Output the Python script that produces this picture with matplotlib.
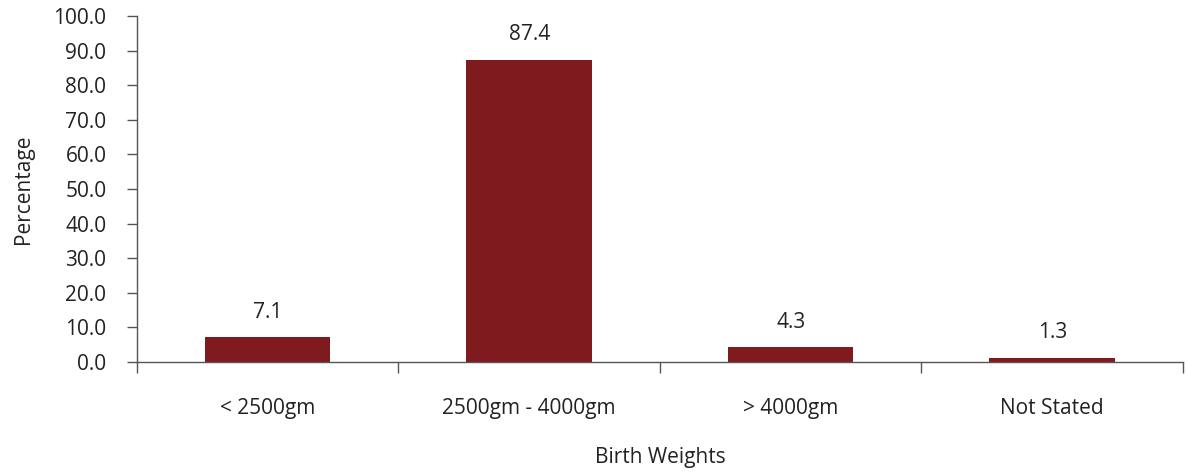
import matplotlib.pyplot as plt
from matplotlib.ticker import FixedLocator, NullFormatter, MultipleLocator, FormatStrFormatter

categories = ["< 2500gm", "2500gm - 4000gm", "> 4000gm", "Not Stated"]
percentages = [7.1, 87.4, 4.3, 1.3]

plt.rcParams['font.family'] = ['Open Sans', 'DejaVu Sans']
text_color = '#222222'
axis_color = '#555555'
bar_color = '#7f1a1f'
fs = 15

fig = plt.figure(figsize=(11.87, 4.72), dpi=100)
ax = fig.add_axes([0.1154, 0.233, 0.8812, 0.733])

x = list(range(len(categories)))
ax.bar(x, percentages, width=0.48, color=bar_color, zorder=2)

for xi, v in zip(x, percentages):
    ax.annotate(f"{v:.1f}", (xi, v), xytext=(0, 18), textcoords='offset points',
                ha='center', va='center', fontsize=fs, color=text_color)

ax.set_xlim(-0.5, len(categories) - 0.5)
ax.set_ylim(0, 100)
ax.yaxis.set_major_locator(MultipleLocator(10))
ax.yaxis.set_major_formatter(FormatStrFormatter('%.1f'))

# category labels sit between the boundary ticks
ax.xaxis.set_major_locator(FixedLocator([i - 0.5 for i in range(len(categories) + 1)]))
ax.xaxis.set_major_formatter(NullFormatter())
ax.xaxis.set_minor_locator(FixedLocator(x))
ax.set_xticklabels(categories, minor=True)
ax.tick_params(axis='x', which='minor', length=0, pad=26, labelsize=fs, labelcolor=text_color)
ax.tick_params(axis='x', which='major', length=8, direction='out', color=axis_color, width=1)
ax.tick_params(axis='y', length=7, direction='out', color=axis_color, width=1,
               labelsize=fs, labelcolor=text_color, pad=15)

for side in ('top', 'right'):
    ax.spines[side].set_visible(False)
for side in ('left', 'bottom'):
    ax.spines[side].set_color(axis_color)
    ax.spines[side].set_linewidth(1)

ax.set_xlabel("Birth Weights", fontsize=fs, color=text_color, labelpad=20)
ax.set_ylabel("Percentage", fontsize=fs, color=text_color, labelpad=14)

fig.savefig("out.png", dpi=100)
